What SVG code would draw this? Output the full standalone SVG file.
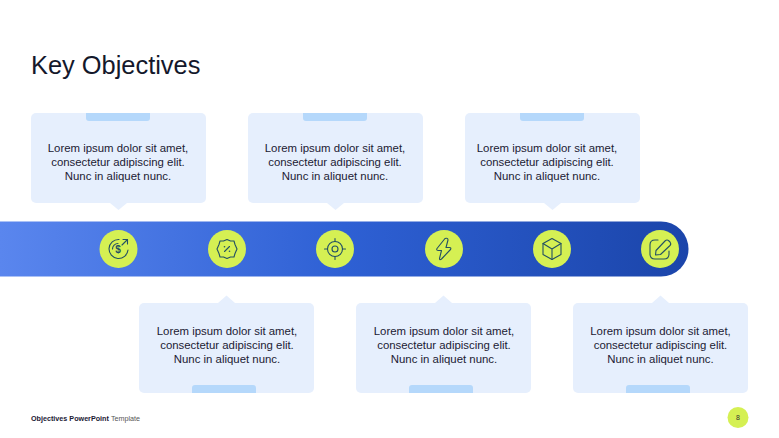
<svg xmlns="http://www.w3.org/2000/svg" width="779" height="438" viewBox="0 0 779 438">
<style>
text{font-family:"Liberation Sans",Arial,sans-serif}
.card{fill:#e6effd}
.tab{fill:#b5d8fb}
.body{font-size:11.400px;fill:#1b2033;text-anchor:middle}
.disc{fill:#d5f053}
.ic{fill:none;stroke:#235064;stroke-width:1.100;stroke-linecap:round;stroke-linejoin:round}
</style>
<defs>
<linearGradient id="band" x1="0" y1="0" x2="1" y2="0">
<stop offset="0" stop-color="#5a86ee"/>
<stop offset="0.5" stop-color="#2e60d4"/>
<stop offset="1" stop-color="#1b45aa"/>
</linearGradient>
<g id="cardDown">
<rect class="card" x="0" y="0" width="175" height="90" rx="5"/>
<path class="card" d="M79 90L87.500 97L96 90Z"/>
<path class="tab" d="M55 0H119V5Q119 8 116 8H58Q55 8 55 5Z"/>
</g>
<g id="cardUp">
<rect class="card" x="0" y="0" width="175" height="90" rx="5"/>
<path class="card" d="M79 0L87.500 -7.500L96 0Z"/>
<path class="tab" d="M53 90H117V85Q117 82 114 82H56Q53 82 53 85Z"/>
</g>
</defs>
<rect width="779" height="438" fill="#fff"/>
<text id="title" x="31" y="74" font-size="25.400" fill="#14182b">Key Objectives</text>
<g id="connectors">
<path d="M0 221.500H661A27.500 27.500 0 0 1 661 276.500H0Z" fill="url(#band)"/>
</g>
<g id="card-1"><use href="#cardDown" x="31" y="113"/>
<text class="body" x="118" y="152">Lorem ipsum dolor sit amet,</text><text class="body" x="118" y="166">consectetur adipiscing elit.</text><text class="body" x="118" y="179.500">Nunc in aliquet nunc.</text></g>
<g id="card-2"><use href="#cardDown" x="248" y="113"/>
<text class="body" x="335" y="152">Lorem ipsum dolor sit amet,</text><text class="body" x="335" y="166">consectetur adipiscing elit.</text><text class="body" x="335" y="179.500">Nunc in aliquet nunc.</text></g>
<g id="card-3"><use href="#cardDown" x="465" y="113"/>
<text class="body" x="547" y="152">Lorem ipsum dolor sit amet,</text><text class="body" x="547" y="166">consectetur adipiscing elit.</text><text class="body" x="547" y="179.500">Nunc in aliquet nunc.</text></g>
<g id="card-4"><use href="#cardUp" x="139" y="303"/>
<text class="body" x="227" y="335">Lorem ipsum dolor sit amet,</text><text class="body" x="227" y="349">consectetur adipiscing elit.</text><text class="body" x="227" y="362.500">Nunc in aliquet nunc.</text></g>
<g id="card-5"><use href="#cardUp" x="356" y="303"/>
<text class="body" x="444" y="335">Lorem ipsum dolor sit amet,</text><text class="body" x="444" y="349">consectetur adipiscing elit.</text><text class="body" x="444" y="362.500">Nunc in aliquet nunc.</text></g>
<g id="card-6"><use href="#cardUp" x="573" y="303"/>
<text class="body" x="660.500" y="335">Lorem ipsum dolor sit amet,</text><text class="body" x="660.500" y="349">consectetur adipiscing elit.</text><text class="body" x="660.500" y="362.500">Nunc in aliquet nunc.</text></g>
<g id="icon-1"><circle class="disc" cx="118.500" cy="249" r="19"/>
<path class="ic" d="M119 239.500A9.500 9.500 0 1 0 128 250"/><path class="ic" d="M118 243.500A5.500 5.500 0 0 0 112.500 249"/><path class="ic" d="M122 245L127.500 239.500M123 239.500H127.500V244"/>
<text x="118" y="253" font-size="10" font-weight="bold" fill="#235064" text-anchor="middle">$</text></g>
<g id="icon-2"><circle class="disc" cx="227" cy="249" r="19"/>
<path class="ic" d="M227 239.500L230.500 241L234 241L235 244.500L237 249L235 253.500L234 257L230.500 257L227 258.500L223.500 257L220 257L219 253.500L217 249L219 244.500L220 241L223.500 241Z"/>
<path class="ic" d="M224.500 251.500L229.500 246.500"/><circle cx="224.500" cy="246.800" r="0.800" fill="#235064"/><circle cx="229.500" cy="251.200" r="0.800" fill="#235064"/></g>
<g id="icon-3"><circle class="disc" cx="335" cy="249" r="19"/>
<circle class="ic" cx="335" cy="249" r="7.500"/><circle class="ic" cx="335" cy="249" r="3"/><path class="ic" d="M335 238.500V241.500M335 256.500V259.500M324.500 249H327.500M342.500 249H345.500"/></g>
<g id="icon-4"><circle class="disc" cx="444" cy="249" r="19"/>
<path class="ic" d="M445 238.500L437 248.500Q436 250.500 438.500 250.500H441.500L439.500 258.500Q439.500 260.500 441.500 259L450.500 249.500Q451.500 247.500 449.500 247.500H446L448 240Q448 237.500 445 238.500Z"/></g>
<g id="icon-5"><circle class="disc" cx="552" cy="249" r="19"/>
<path class="ic" d="M552 238.500L561 243.500V254.500L552 259.500L543 254.500V243.500Z"/><path class="ic" d="M543 243.500L552 249L561 243.500M552 249V259.500"/></g>
<g id="icon-6"><circle class="disc" cx="660" cy="249" r="19"/>
<path class="ic" d="M658 240H655Q650 240 650 245V254Q650 259 655 259H664Q669 259 669 254V251"/>
<path class="ic" d="M656 250.500L665 241Q667 239 669 241L670 242Q671.500 244 670 245.500L660.500 254.500L655.500 255Z"/></g>
<g id="footer">
<text x="31" y="420.500" font-size="7.200" font-weight="bold" fill="#1b2033">Objectives PowerPoint <tspan font-weight="normal" fill="#555">Template</tspan></text>
<circle class="disc" cx="738" cy="417.500" r="10.500"/>
<text x="738" y="420" font-size="7" fill="#333" text-anchor="middle">8</text>
</g>
</svg>
